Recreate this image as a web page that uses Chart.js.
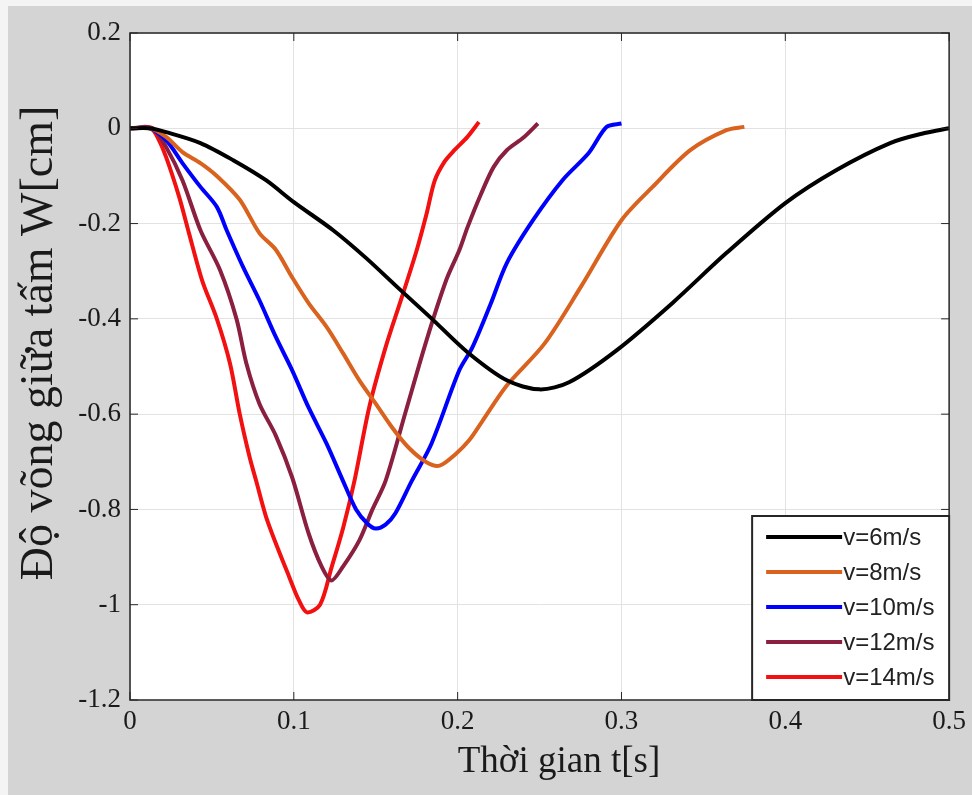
<!DOCTYPE html>
<html>
<head>
<meta charset="utf-8">
<script src="https://cdn.jsdelivr.net/npm/chart.js@4"></script>
<style>
    body { margin: 0; background: #f4f4f4; }
    #bg { position: absolute; left: 8px; top: 6px; right: 0; bottom: 0; background: #d4d4d4; }
    #wrap { position: absolute; left: 0; top: 0; width: 972px; height: 795px; }
</style>
</head>
<body>
<div id="bg"></div>
<div id="wrap"><canvas id="deflectionChart" width="972" height="795"></canvas></div>
<script>
// series labels and colours
const seriesLabels = ['v=6m/s', 'v=8m/s', 'v=10m/s', 'v=12m/s', 'v=14m/s'];
const seriesColors = ['#000000', '#d9621f', '#0000ff', '#8b1f3f', '#f21010'];

// v = 6 m/s
const t6 = [0, 0.012, 0.022, 0.043, 0.063, 0.083, 0.1, 0.124, 0.144, 0.164, 0.184, 0.206, 0.23, 0.25, 0.268, 0.297, 0.331, 0.364, 0.4, 0.431, 0.464, 0.485, 0.5];
const w6 = [0, 0, -0.008, -0.031, -0.067, -0.109, -0.155, -0.214, -0.272, -0.336, -0.399, -0.47, -0.529, -0.548, -0.533, -0.466, -0.367, -0.262, -0.157, -0.088, -0.031, -0.01, 0];

// v = 8 m/s
const t8 = [0, 0.012, 0.022, 0.032, 0.043, 0.053, 0.067, 0.079, 0.089, 0.099, 0.109, 0.12, 0.13, 0.14, 0.15, 0.16, 0.17, 0.181, 0.189, 0.199, 0.207, 0.215, 0.23, 0.253, 0.275, 0.3, 0.319, 0.342, 0.364, 0.375];
const w8 = [0, 0, -0.018, -0.05, -0.073, -0.1, -0.15, -0.22, -0.255, -0.313, -0.367, -0.417, -0.472, -0.529, -0.578, -0.628, -0.67, -0.701, -0.708, -0.683, -0.655, -0.615, -0.54, -0.452, -0.334, -0.193, -0.123, -0.046, -0.004, 0.003];

// v = 10 m/s
const t10 = [0, 0.012, 0.022, 0.032, 0.043, 0.053, 0.059, 0.069, 0.079, 0.089, 0.099, 0.109, 0.12, 0.13, 0.138, 0.145, 0.15, 0.156, 0.162, 0.172, 0.184, 0.201, 0.209, 0.22, 0.23, 0.246, 0.264, 0.28, 0.291, 0.3];
const w10 = [0, 0, -0.025, -0.073, -0.123, -0.165, -0.214, -0.291, -0.361, -0.438, -0.508, -0.586, -0.662, -0.74, -0.8, -0.83, -0.84, -0.832, -0.808, -0.74, -0.662, -0.508, -0.46, -0.37, -0.283, -0.193, -0.109, -0.052, 0.003, 0.01];

// v = 12 m/s
const t12 = [0, 0.008, 0.014, 0.022, 0.032, 0.043, 0.055, 0.065, 0.071, 0.079, 0.089, 0.099, 0.109, 0.117, 0.123, 0.13, 0.14, 0.148, 0.156, 0.168, 0.181, 0.193, 0.201, 0.206, 0.214, 0.222, 0.23, 0.24, 0.249];
const w12 = [0, 0.002, 0, -0.039, -0.109, -0.214, -0.298, -0.4, -0.493, -0.578, -0.645, -0.733, -0.85, -0.92, -0.949, -0.92, -0.865, -0.8, -0.74, -0.598, -0.445, -0.319, -0.256, -0.208, -0.14, -0.081, -0.046, -0.02, 0.01];

// v = 14 m/s
const t14 = [0, 0.004, 0.009, 0.013, 0.017, 0.022, 0.03, 0.036, 0.044, 0.053, 0.061, 0.067, 0.073, 0.077, 0.083, 0.09, 0.097, 0.103, 0.108, 0.116, 0.123, 0.13, 0.137, 0.146, 0.156, 0.166, 0.175, 0.181, 0.186, 0.192, 0.198, 0.206, 0.213];
const w14 = [0, 0, 0.003, 0, -0.02, -0.06, -0.144, -0.22, -0.319, -0.4, -0.493, -0.6, -0.69, -0.74, -0.815, -0.88, -0.94, -0.99, -1.016, -1.0, -0.922, -0.84, -0.74, -0.586, -0.46, -0.354, -0.256, -0.18, -0.11, -0.07, -0.046, -0.018, 0.013];

// axis ticks and titles
const xTicks = [0, 0.1, 0.2, 0.3, 0.4, 0.5];
const yTicks = [0.2, 0, -0.2, -0.4, -0.6, -0.8, -1, -1.2];
const xTitle = 'Thời gian t[s]';
const yTitle = 'Độ võng giữa tấm W[cm]';

const seriesT = [t6, t8, t10, t12, t14];
const seriesW = [w6, w8, w10, w12, w14];

const serif = '"Liberation Serif", "Times New Roman", serif';

const datasets = seriesLabels.map(function(label, i) {
    return {
        label: label,
        data: seriesT[i].map(function(t, j) { return { x: t, y: seriesW[i][j] }; }),
        borderColor: seriesColors[i],
        backgroundColor: seriesColors[i],
        borderWidth: 4,
        pointRadius: 0,
        tension: 0.3,
        fill: false
    };
});

// white plot area, box, inward ticks, titles, legend
const matlabLook = {
    id: 'matlabLook',
    beforeDraw(chart) {
        const a = chart.chartArea;
        const ctx = chart.ctx;
        ctx.save();
        ctx.fillStyle = '#ffffff';
        ctx.fillRect(a.left, a.top, a.right - a.left, a.bottom - a.top);
        ctx.restore();
    },
    afterDraw(chart) {
        const a = chart.chartArea;
        const ctx = chart.ctx;
        const xs = chart.scales.x;
        const ys = chart.scales.y;
        ctx.save();
        ctx.strokeStyle = '#262626';
        ctx.lineWidth = 1.5;
        ctx.strokeRect(a.left, a.top, a.right - a.left, a.bottom - a.top);

        ctx.lineWidth = 1;
        ctx.beginPath();
        xTicks.forEach(function(v) {
            const px = xs.getPixelForValue(v);
            ctx.moveTo(px, a.bottom); ctx.lineTo(px, a.bottom - 8);
            ctx.moveTo(px, a.top); ctx.lineTo(px, a.top + 8);
        });
        yTicks.forEach(function(v) {
            const py = ys.getPixelForValue(v);
            ctx.moveTo(a.left, py); ctx.lineTo(a.left + 8, py);
            ctx.moveTo(a.right, py); ctx.lineTo(a.right - 8, py);
        });
        ctx.stroke();

        // axis titles
        ctx.fillStyle = '#1a1a1a';
        ctx.textAlign = 'center';
        ctx.textBaseline = 'middle';
        ctx.font = '37px ' + serif;
        ctx.fillText(xTitle, a.left + 429, a.bottom + 62);
        ctx.save();
        ctx.translate(40, a.top + 310);
        ctx.rotate(-Math.PI / 2);
        ctx.font = '46px ' + serif;
        ctx.fillText(yTitle, 0, 0);
        ctx.restore();

        // legend box in lower right corner
        const boxW = 197, boxH = 184;
        const bx = a.right - boxW, by = a.bottom - boxH;
        ctx.fillStyle = '#ffffff';
        ctx.fillRect(bx, by, boxW, boxH);
        ctx.strokeStyle = '#262626';
        ctx.lineWidth = 2;
        ctx.strokeRect(bx, by, boxW, boxH);
        ctx.font = '24px "Liberation Sans", Arial, sans-serif';
        ctx.textBaseline = 'middle';
        ctx.textAlign = 'left';
        chart.data.datasets.forEach(function(ds, i) {
            const ly = by + 21 + i * 35;
            ctx.strokeStyle = ds.borderColor;
            ctx.lineWidth = 4;
            ctx.beginPath();
            ctx.moveTo(bx + 14, ly);
            ctx.lineTo(bx + 90, ly);
            ctx.stroke();
            ctx.fillStyle = '#222222';
            ctx.fillText(ds.label, bx + 91, ly + 1);
        });
        ctx.restore();
    }
};

const ctx = document.getElementById('deflectionChart').getContext('2d');
const deflectionChart = new Chart(ctx, {
    type: 'line',
    data: { datasets: datasets },
    plugins: [matlabLook],
    options: {
        responsive: false,
        animation: false,
        layout: { padding: { top: 33, right: 20, left: 0, bottom: 0 } },
        plugins: {
            legend: { display: false },
            tooltip: { enabled: false }
        },
        scales: {
            x: {
                type: 'linear',
                min: 0,
                max: 0.5,
                afterFit: function(scale) { scale.height = 95; },
                afterBuildTicks: function(scale) { scale.ticks = xTicks.map(function(v) { return { value: v }; }); },
                grid: { color: '#e2e2e2', lineWidth: 1, drawTicks: false },
                border: { display: false },
                ticks: {
                    padding: 6,
                    color: '#1a1a1a',
                    font: { family: serif, size: 27 },
                    callback: function(v) { return String(Math.round(v * 10) / 10); }
                }
            },
            y: {
                type: 'linear',
                min: -1.2,
                max: 0.2,
                afterFit: function(scale) { scale.width = 130; },
                afterBuildTicks: function(scale) { scale.ticks = yTicks.map(function(v) { return { value: v }; }); },
                grid: { color: '#e2e2e2', lineWidth: 1, drawTicks: false },
                border: { display: false },
                ticks: {
                    padding: 9,
                    color: '#1a1a1a',
                    font: { family: serif, size: 27 },
                    callback: function(v) { return String(Math.round(v * 10) / 10); }
                }
            }
        }
    }
});
</script>
</body>
</html>
